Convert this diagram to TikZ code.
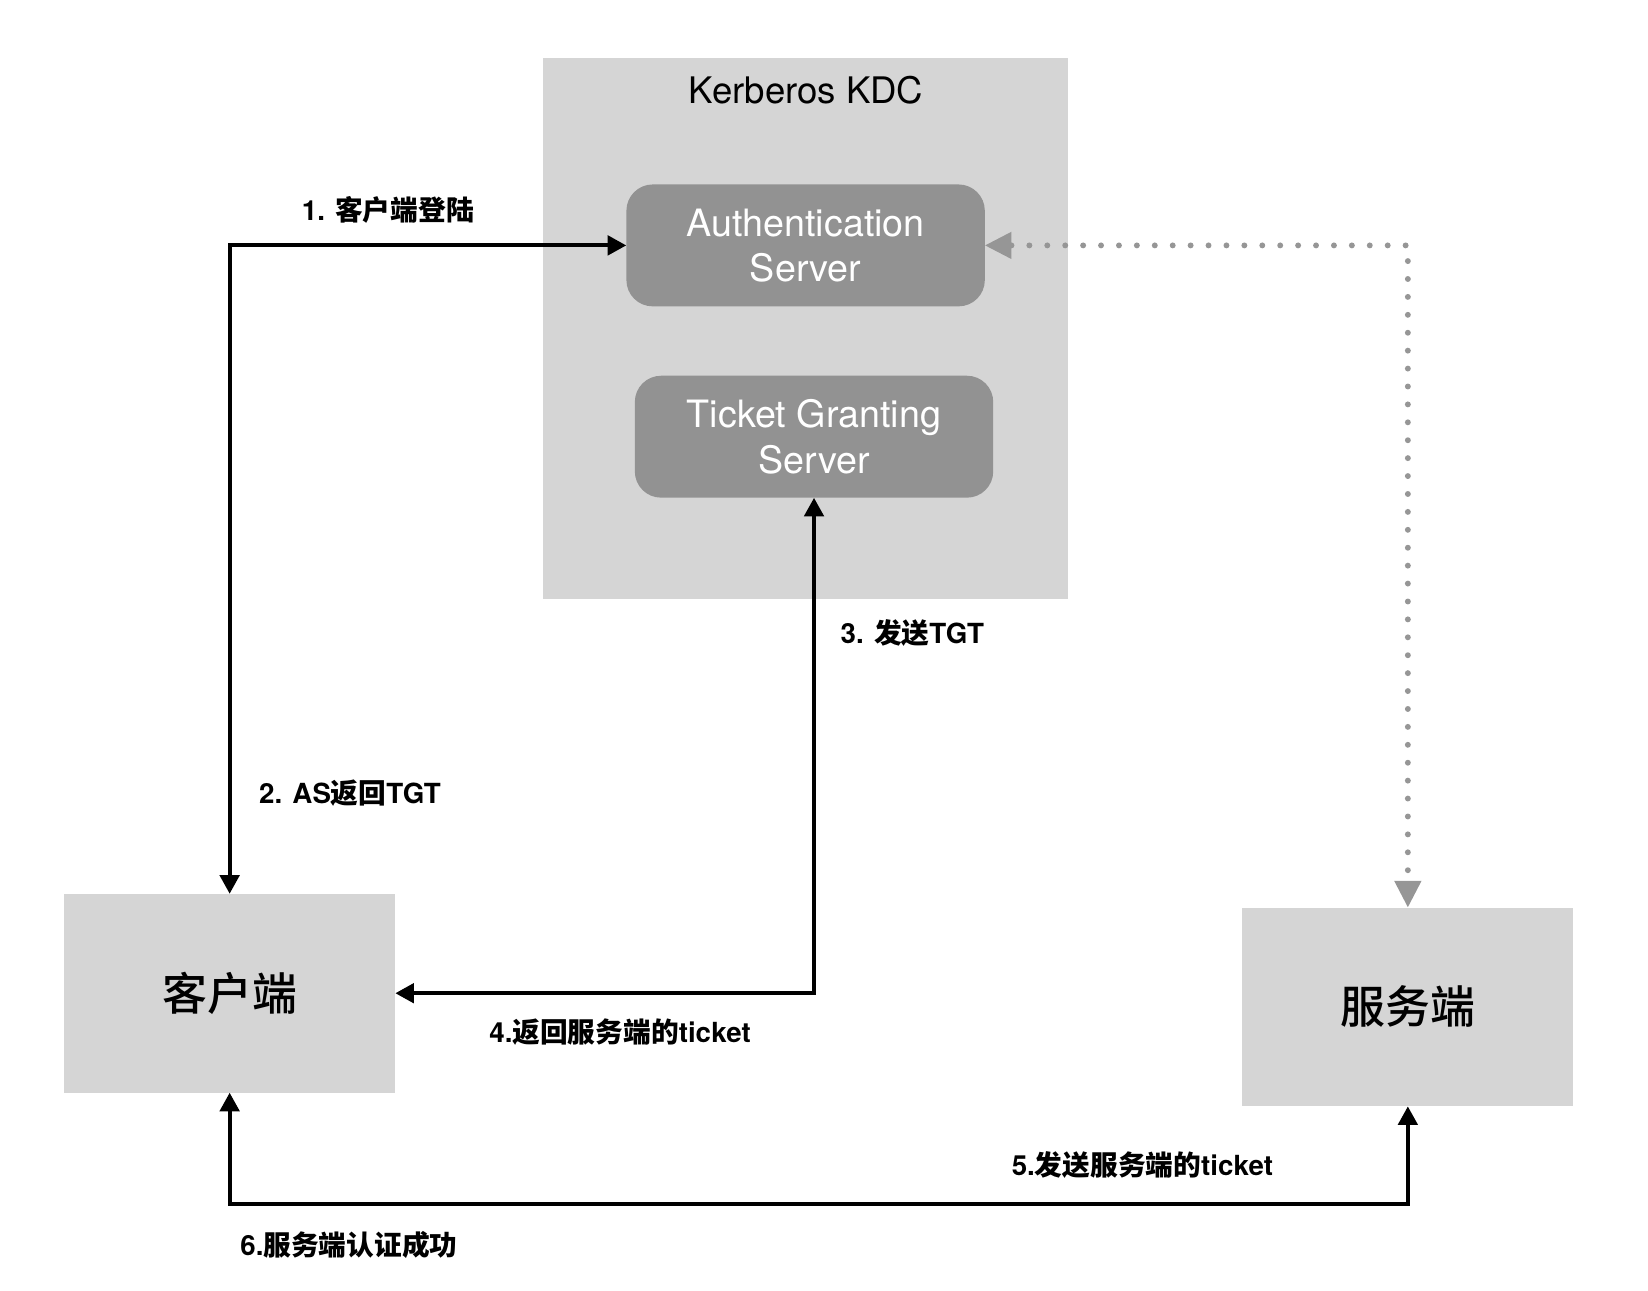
\documentclass[tikz,border=0pt]{standalone}
\usepackage{fontspec}
\setmainfont{TeX Gyre Heros}
\newfontfamily\cjk{Noto Sans CJK SC}
\newfontfamily\cjkmed{Noto Sans CJK SC Medium}
\usepackage{tikz}
\usetikzlibrary{arrows.meta}

\definecolor{kdcgray}{HTML}{D5D5D5}
\definecolor{servergray}{HTML}{929292}
\definecolor{dotgray}{HTML}{969696}
\newcommand{\zh}[1]{{\cjk #1}}

\begin{document}
\begin{tikzpicture}[
	box/.style={fill=kdcgray, inner sep=0pt},
	srv/.style={fill=servergray, rounded corners=0.5cm, minimum width=6.82cm, minimum height=2.32cm, inner sep=0pt, text=white, align=center, font=\fontsize{20.4}{24.5}\selectfont},
	lbl/.style={inner sep=0pt, font=\fontsize{15}{18}\selectfont\bfseries},
	link/.style={line width=2.2pt, {Triangle[length=0.35cm, width=0.39cm, line width=0pt]}-{Triangle[length=0.35cm, width=0.39cm, line width=0pt]}},
	dotlink/.style={dotgray, line width=3.2pt, line cap=round, dash pattern=on 0pt off 9.7pt, {Triangle[length=0.5cm, width=0.52cm, line width=0pt]}-{Triangle[length=0.5cm, width=0.52cm, line width=0pt]}}
	]
		\begingroup
		\useasboundingbox (0,0) rectangle (31.36,24.55);
		
		\node[box, minimum width=9.98cm, minimum height=10.28cm] (kdc) at (15.33, 18.30) {};
		\node[inner sep=0pt, font=\fontsize{19.8}{24}\selectfont] (kdctitle) at (15.34, 22.84) {Kerberos KDC};
		\node[srv] (as) at (15.33, 19.88) {Authentication\\Server};
		\node[srv] (tgs) at (15.49, 16.24) {Ticket Granting\\Server};
		
		\node[box, minimum width=6.30cm, minimum height=3.78cm, font=\cjkmed\fontsize{24.3}{28}\selectfont] (client) at (4.37, 5.65) {客户端};
		\node[box, minimum width=6.30cm, minimum height=3.78cm, font=\cjkmed\fontsize{24.3}{28}\selectfont] (server) at (26.79, 5.39) {服务端};
		\coordinate (bottom) at (15.00, 1.64);
		
		\draw[link] (as.west) -| (client.north);
		\draw[link] (tgs.south) |- (client.east);
		\draw[link] (client.south) |- (bottom) -| (server.south);
		\draw[dotlink] (as.east) -| (server.north);
		
		\node[lbl] (l1) at (7.38, 20.56) {1. \zh{客户端登陆}};
		\node[lbl] (l2) at (6.66, 9.46) {2. AS\zh{返回}TGT};
		\node[lbl] (l3) at (17.36, 12.50) {3. \zh{发送}TGT};
		\node[lbl] (l4) at (11.80, 4.92) {4.\zh{返回服务端的}ticket};
		\node[lbl] (l5) at (21.74, 2.38) {5.\zh{发送服务端的}ticket};
		\node[lbl] (l6) at (6.64, 0.86) {6.\zh{服务端认证成功}};
		\endgroup
		\end{tikzpicture}
\end{document}
